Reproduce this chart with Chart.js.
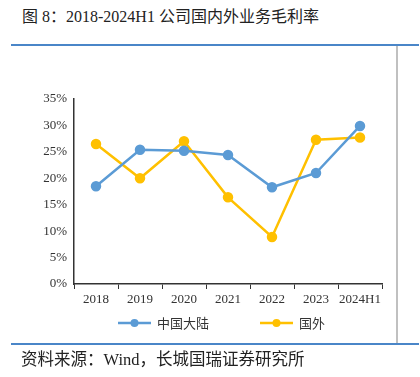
<!DOCTYPE html>
<html lang="zh">
<head>
  <meta charset="UTF-8">
  <title>公司国内外业务毛利率</title>
  <script src="https://cdn.jsdelivr.net/npm/chart.js"></script>
  <style>
    body {
      margin: 0;
      width: 420px;
      height: 377px;
      overflow: hidden;
      background: #fff;
      position: relative;
      font-family: "Liberation Serif", "Noto Sans CJK SC", serif;
    }
    #title {
      position: absolute;
      left: 22px;
      top: 3px;
      font-size: 16px;
      color: #222;
      white-space: nowrap;
    }
    .blue-line {
      position: absolute;
      left: 11px;
      width: 408px;
      height: 2px;
      background: #4a86c8;
    }
    #rightLine {
      position: absolute;
      left: 396px;
      top: 46px;
      width: 2px;
      height: 297px;
      background: #c0c0c0;
    }
    #chartBox {
      position: absolute;
      left: 20px;
      top: 46px;
      width: 399px;
      height: 297px;
    }
    .legend-item {
      position: absolute;
      top: 314px;
      height: 18px;
      font-family: "Noto Sans CJK SC", sans-serif;
      font-size: 13px;
      line-height: 18px;
      color: #333;
      white-space: nowrap;
    }
    .legend-item canvas {
      vertical-align: middle;
      margin-right: 6px;
      margin-top: -2px;
    }
    #source {
      position: absolute;
      left: 21px;
      top: 346px;
      font-size: 16.5px;
      color: #222;
      white-space: nowrap;
    }
  </style>
</head>
<body>
  <div id="title">图 8：2018-2024H1 公司国内外业务毛利率</div>
  <div class="blue-line" style="top:44px"></div>
  <div id="chartBox"><canvas id="marginChart"></canvas></div>
  <div id="rightLine"></div>
  <div id="legend"></div>
  <div class="blue-line" style="top:343px"></div>
  <div id="source">资料来源：Wind，长城国瑞证券研究所</div>

<script>
  // 数据
  const years = ['2018', '2019', '2020', '2021', '2022', '2023', '2024H1'];
  const mainland = [18.5, 25.4, 25.2, 24.4, 18.3, 21.0, 29.9];
  const overseas = [26.5, 20.0, 27.0, 16.4, 8.9, 27.3, 27.7];
  const yTicks = [0, 5, 10, 15, 20, 25, 30, 35];

  const blue = '#5b9bd5';
  const yellow = '#ffc000';

  // 图例标记：线段 + 圆点
  function legendMark(color) {
    const c = document.createElement('canvas');
    c.width = 33;
    c.height = 10;
    const g = c.getContext('2d');
    g.strokeStyle = color;
    g.lineWidth = 2.5;
    g.beginPath();
    g.moveTo(0, 5);
    g.lineTo(33, 5);
    g.stroke();
    g.fillStyle = color;
    g.beginPath();
    g.arc(16.5, 5, 4, 0, Math.PI * 2);
    g.fill();
    return c;
  }

  const ctx = document.getElementById('marginChart').getContext('2d');
  const chart = new Chart(ctx, {
    type: 'line',
    data: {
      labels: years,
      datasets: [{
        label: '中国大陆',
        data: mainland,
        borderColor: blue,
        backgroundColor: blue,
        borderWidth: 2.5,
        pointRadius: 4,
        pointHoverRadius: 4,
        tension: 0
      }, {
        label: '国外',
        data: overseas,
        borderColor: yellow,
        backgroundColor: yellow,
        borderWidth: 2.5,
        pointRadius: 4,
        pointHoverRadius: 4,
        tension: 0
      }]
    },
    options: {
      responsive: true,
      maintainAspectRatio: false,
      animation: false,
      layout: {
        padding: { left: 0, right: 37, top: 53, bottom: 37 }
      },
      plugins: {
        tooltip: { enabled: false },
        legend: { display: false }
      },
      scales: {
        x: {
          offset: true,
          afterFit: function (scale) {
            scale.height = 22;
          },
          grid: {
            offset: true,
            drawOnChartArea: false,
            drawTicks: true,
            tickLength: 5,
            color: '#333'
          },
          border: { color: '#333', width: 1.5 },
          ticks: {
            color: '#333',
            padding: 3,
            maxRotation: 0,
            autoSkip: false,
            font: { family: '"Liberation Serif", serif', size: 13 }
          }
        },
        y: {
          min: 0,
          max: 35,
          afterBuildTicks: function (scale) {
            scale.ticks = yTicks.map(v => ({ value: v }));
          },
          afterFit: function (scale) {
            scale.width = 54;
          },
          grid: { display: false, drawTicks: false },
          border: { color: '#333', width: 1.5 },
          ticks: {
            color: '#333',
            padding: 7,
            font: { family: '"Liberation Serif", serif', size: 13 },
            callback: v => v + '%'
          }
        }
      }
    }
  });

  // HTML 图例
  const legendLeft = [118, 260];
  chart.data.datasets.forEach(function (ds, i) {
    const item = document.createElement('div');
    item.className = 'legend-item';
    item.style.left = legendLeft[i] + 'px';
    item.appendChild(legendMark(ds.borderColor));
    item.appendChild(document.createTextNode(ds.label));
    document.getElementById('legend').appendChild(item);
  });
</script>
</body>
</html>
